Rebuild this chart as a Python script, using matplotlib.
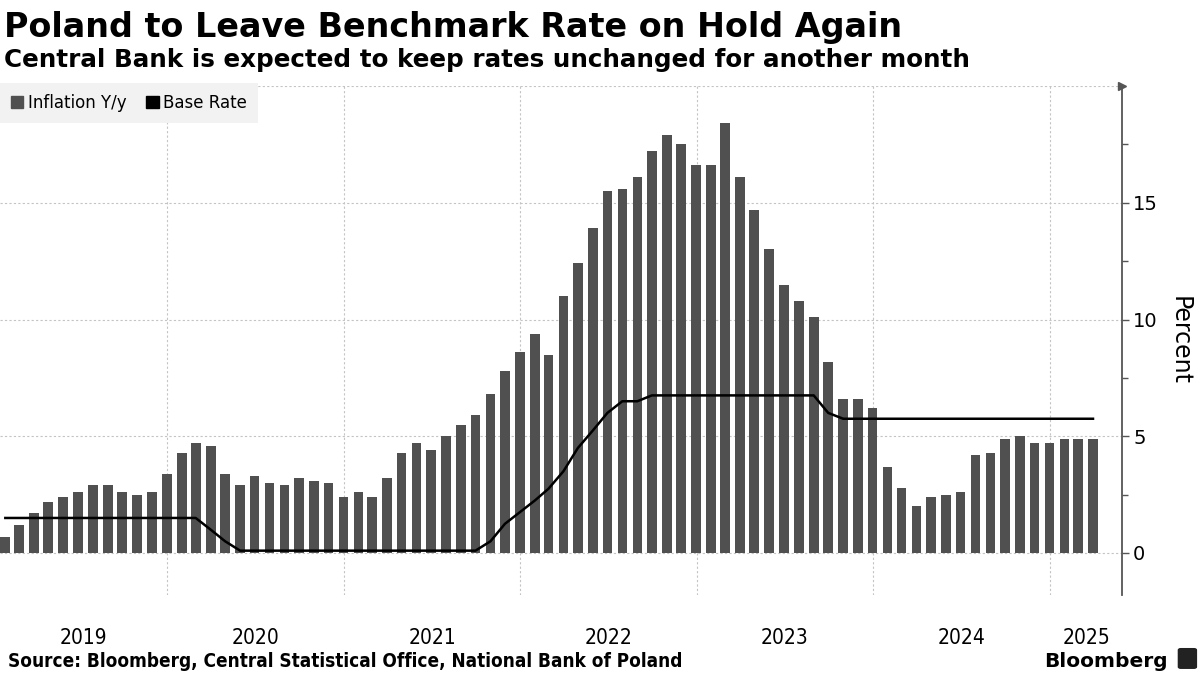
import matplotlib
matplotlib.use("Agg")
import matplotlib.pyplot as plt
from matplotlib.patches import Patch, FancyBboxPatch
import pandas as pd

# monthly data, Jan 2019 - Mar 2025 (plotted at month end)
months = pd.date_range("2019-01-31", periods=75, freq="ME")

inflation = [
    0.7, 1.2, 1.7, 2.2, 2.4, 2.6, 2.9, 2.9, 2.6, 2.5, 2.6, 3.4,
    4.3, 4.7, 4.6, 3.4, 2.9, 3.3, 3.0, 2.9, 3.2, 3.1, 3.0, 2.4,
    2.6, 2.4, 3.2, 4.3, 4.7, 4.4, 5.0, 5.5, 5.9, 6.8, 7.8, 8.6,
    9.4, 8.5, 11.0, 12.4, 13.9, 15.5, 15.6, 16.1, 17.2, 17.9, 17.5, 16.6,
    16.6, 18.4, 16.1, 14.7, 13.0, 11.5, 10.8, 10.1, 8.2, 6.6, 6.6, 6.2,
    3.7, 2.8, 2.0, 2.4, 2.5, 2.6, 4.2, 4.3, 4.9, 5.0, 4.7, 4.7,
    4.9, 4.9, 4.9,
]

base_rate = (
    [1.5] * 12
    + [1.5, 1.5, 1.0, 0.5] + [0.1] * 8
    + [0.1] * 9 + [0.5, 1.25, 1.75]
    + [2.25, 2.75, 3.5, 4.5, 5.25, 6.0, 6.5, 6.5, 6.75, 6.75, 6.75, 6.75]
    + [6.75] * 8 + [6.0, 5.75, 5.75, 5.75]
    + [5.75] * 12
    + [5.75] * 3
)

years = [2019, 2020, 2021, 2022, 2023, 2024, 2025]
y_ticks = [0, 5, 10, 15]

BAR_COLOR = "#505050"
GRID_COLOR = "#c4c4c4"
AXIS_COLOR = "#555555"

fig = plt.figure(figsize=(12, 6.75), dpi=100)
ax = fig.add_axes([0.0, 0.1185, 0.935, 0.754])

ax.bar(months, inflation, width=20, color=BAR_COLOR, align="center", zorder=2)
ax.plot(months, base_rate, color="black", linewidth=1.8, zorder=3)

x_left = pd.Timestamp("2019-01-20")
x_right = pd.Timestamp("2025-05-30")
ax.set_xlim(x_left, x_right)
ax.set_ylim(-1.8, 20)

# year boundaries as gridlines, year names centred in each visible span
starts = [pd.Timestamp(f"{y}-01-01") for y in years[1:]]
ax.set_xticks(starts)
ax.set_xticklabels([])
ax.tick_params(axis="x", which="major", length=0)
edges = [x_left] + starts + [x_right]
mids = [a + (b - a) / 2 for a, b in zip(edges[:-1], edges[1:])]
ax.set_xticks(mids, minor=True)
ax.set_xticklabels([str(y) for y in years], minor=True, fontsize=15,
                   family=["Liberation Sans Narrow", "DejaVu Sans"],
                   fontstretch="condensed")
ax.tick_params(axis="x", which="minor", length=0, pad=24)

ax.yaxis.tick_right()
ax.yaxis.set_label_position("right")
ax.set_yticks(y_ticks)
ax.set_yticks([2.5, 7.5, 12.5, 17.5], minor=True)
ax.tick_params(axis="y", which="major", direction="out", length=5, width=1,
               color=AXIS_COLOR, labelsize=14, pad=3)
ax.tick_params(axis="y", which="minor", direction="out", length=4, width=1,
               color=AXIS_COLOR)
ax.set_ylabel("Percent", rotation=270, fontsize=17, labelpad=24)

ax.grid(True, which="major", axis="both", color=GRID_COLOR,
        linestyle=(0, (2, 2)), linewidth=0.8, zorder=0)
ax.axhline(20, color=GRID_COLOR, linestyle=(0, (2, 2)), linewidth=0.8, zorder=0)

for side in ["top", "left", "bottom"]:
    ax.spines[side].set_visible(False)
ax.spines["right"].set_color(AXIS_COLOR)
ax.spines["right"].set_linewidth(1.3)
ax.plot(1.0, 1.0, marker=">", color=AXIS_COLOR, markersize=6,
        transform=ax.transAxes, clip_on=False, zorder=5)

handles = [Patch(color=BAR_COLOR), Patch(color="black")]
leg = ax.legend(handles, ["Inflation Y/y", "Base Rate"], loc="upper left",
                bbox_to_anchor=(0.0, 1.006), ncol=2, fontsize=12,
                frameon=True, fancybox=False, borderaxespad=0,
                handlelength=0.75, handleheight=0.75, handletextpad=0.25,
                columnspacing=1.2, borderpad=0.65)
leg.get_frame().set_facecolor("#f2f2f2")
leg.get_frame().set_edgecolor("none")
leg.get_frame().set_alpha(1)

fig.text(0.003, 0.945, "Poland to Leave Benchmark Rate on Hold Again",
         fontsize=24, fontweight="bold", va="baseline")
fig.text(0.003, 0.9007,
         "Central Bank is expected to keep rates unchanged for another month",
         fontsize=17.7, fontweight="bold", va="baseline")
fig.text(0.007, 0.012,
         "Source: Bloomberg, Central Statistical Office, National Bank of Poland",
         fontsize=13.6, fontweight="bold", fontstretch="condensed", va="baseline")
fig.text(0.973, 0.012, "Bloomberg", fontsize=14.5, fontweight="bold",
         ha="right", va="baseline")
fig.patches.append(FancyBboxPatch((0.984, 0.012), 0.011, 0.025,
                                  boxstyle="round,pad=0.002", color="#222222",
                                  transform=fig.transFigure))

fig.savefig("out.png", dpi=100)
